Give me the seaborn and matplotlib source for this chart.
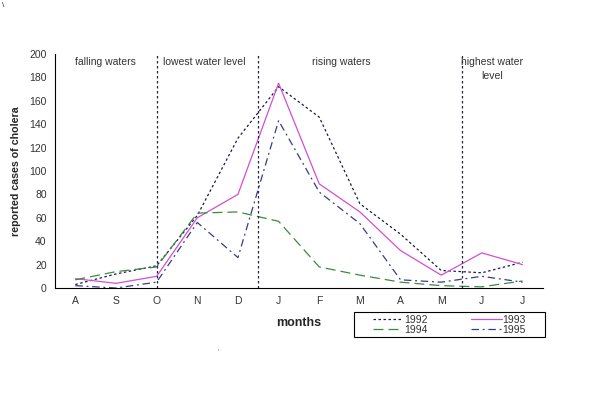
import pandas as pd
import matplotlib.pyplot as plt
import seaborn as sns
from matplotlib.patches import Rectangle

# 数据（从图上读出来的估计值）
months = ['A', 'S', 'O', 'N', 'D', 'J', 'F', 'M', 'A', 'M', 'J', 'J']
cases_1992 = [3, 12, 19, 62, 128, 172, 146, 72, 46, 15, 13, 22]
cases_1993 = [8, 4, 10, 60, 80, 175, 89, 65, 32, 11, 30, 20]
cases_1994 = [7, 14, 18, 64, 65, 57, 18, 11, 5, 2, 1, 6]
cases_1995 = [2, 0, 5, 56, 26, 143, 82, 55, 7, 5, 10, 5]
years = ['1992', '1993', '1994', '1995']
phases = ['falling waters', 'lowest water level', 'rising waters', 'highest water\nlevel']

sns.set_style('white')
plt.rcParams['font.family'] = ['Liberation Sans', 'DejaVu Sans']

# 整理成长表
rows = []
for yr, vals in zip(years, [cases_1992, cases_1993, cases_1994, cases_1995]):
    for i, v in enumerate(vals):
        rows.append({'pos': i, 'cases': v, 'year': yr})
df = pd.DataFrame(rows)

palette = {'1992': '#1a1a4a', '1993': '#d050d0', '1994': '#3c8a3c', '1995': '#3a3a8a'}
dashes = {'1992': (2, 2), '1993': '', '1994': (8, 4), '1995': (6, 3, 1.5, 3)}

fig = plt.figure(figsize=(6, 4.15), dpi=100)
ax = fig.add_axes([0.0917, 0.306, 0.813, 0.564])

sns.lineplot(data=df, x='pos', y='cases', hue='year', style='year',
             palette=palette, dashes=dashes, linewidth=0.9, ax=ax, legend=False)

# 水位阶段分隔线
for xv in [2, 4.5, 9.5]:
    ax.axvline(xv, color='#222244', linestyle=(0, (2, 2)), linewidth=0.9)

txt_kw = dict(fontsize=7.5, color='#333333', va='top', transform=ax.get_xaxis_transform())
ax.text(0.75, 0.985, phases[0], ha='center', **txt_kw)
ax.text(3.17, 0.985, phases[1], ha='center', **txt_kw)
ax.text(6.55, 0.985, phases[2], ha='center', **txt_kw)
ax.text(10.25, 0.985, phases[3], ha='center', linespacing=1.4, **txt_kw)

ax.set_xlim(-0.5, 11.5)
ax.set_ylim(0, 200)
ax.set_yticks(range(0, 201, 20))
ax.set_xticks([i - 0.5 for i in range(13)])
ax.set_xticklabels([])
ax.set_xticks(range(12), minor=True)
ax.set_xticklabels(months, minor=True)
ax.tick_params(axis='x', which='minor', length=0, pad=6, labelsize=7.5, labelcolor='#333333')
ax.tick_params(axis='x', which='major', direction='out', length=4, color='black', width=0.8)
ax.tick_params(axis='y', direction='out', length=4, color='black', width=0.8,
               labelsize=7.5, labelcolor='#333333', pad=2)

for s in ['top', 'right']:
    ax.spines[s].set_visible(False)
for s in ['left', 'bottom']:
    ax.spines[s].set_color('black')
    ax.spines[s].set_linewidth(0.8)

ax.set_xlabel('months', fontsize=9, fontweight='bold', labelpad=8)
ax.set_ylabel('reported cases of cholera', fontsize=7.7, fontweight='bold', labelpad=6)

# 图例：无边框图例 + 单独画的方框
lines = ax.get_lines()[:4]
order = [0, 2, 1, 3]
leg = fig.legend([lines[i] for i in order], [years[i] for i in order],
                 ncol=2, loc='center', bbox_to_anchor=(449.5 / 600, 1 - 324.5 / 415),
                 frameon=False, fontsize=7.5, handlelength=2.9, handletextpad=0.1,
                 borderpad=0, labelspacing=0.0, columnspacing=4.2)
for t in leg.get_texts():
    t.set_color('#333333')
fig.patches.append(Rectangle((354 / 600, 1 - 337 / 415), 191 / 600, 25 / 415,
                             transform=fig.transFigure, fill=False,
                             edgecolor='black', linewidth=0.8))

fig.text(0.003, 0.995, '\\', fontsize=6, va='top', ha='left')
fig.text(0.363, 0.148, "'", fontsize=5, color='#666666')

plt.savefig('out.png', dpi=100)
